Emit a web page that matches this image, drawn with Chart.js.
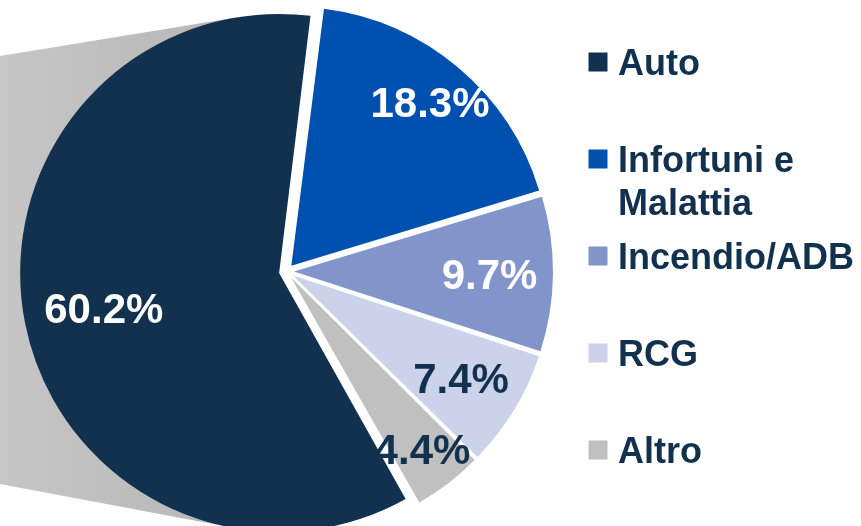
<!DOCTYPE html>
<html>
<head>
<meta charset="utf-8">
<script src="https://cdn.jsdelivr.net/npm/chart.js@4/dist/chart.umd.min.js"></script>
<style>
  html, body { margin: 0; padding: 0; background: #ffffff; }
  #wrap { width: 861px; height: 526px; position: relative; overflow: hidden; }
  canvas { display: block; }
</style>
</head>
<body>
<div id="wrap"><canvas id="c" width="861" height="526"></canvas></div>
<script>
// ---- data ----
const categories = ["Auto", "Infortuni e Malattia", "Incendio/ADB", "RCG", "Altro"];
const shares = [60.2, 18.3, 9.7, 7.4, 4.4];
const valueLabels = ["60.2%", "18.3%", "9.7%", "7.4%", "4.4%"];

// ---- style ----
const sliceColors = ["#11314f", "#0050b0", "#8195cb", "#cbd2ea", "#c0c0c0"];
const labelColors = ["#ffffff", "#ffffff", "#ffffff", "#11314f", "#11314f"];
const labelRadius = [0.69, 0.83, 0.755, 0.76, 0.835];
const TEXT_COLOR = "#11314f";
const FONT = '"Liberation Sans", Arial, Helvetica, sans-serif';
const PIE_RADIUS = 259;
const EXPLODE = 30;            // Chart.js offset (translation = offset / 4)
const LABEL_SIZE = 42;
const LEGEND_SIZE = 36;

// keeps every exploded slice at the same drawn radius
const radiusFix = {
  id: 'radiusFix',
  afterDatasetUpdate(chart, args) {
    args.meta.data.forEach(el => {
      const o = (el.options && el.options.offset != null) ? el.options.offset : EXPLODE;
      const t = o / 4;
      const fix = 1 - Math.sin(Math.min(Math.PI, el.circumference || 0));
      el.outerRadius = PIE_RADIUS - t * fix;
    });
  }
};

function sliceCenter(el) {
  const mid = (el.startAngle + el.endAngle) / 2;
  const o = (el.options && el.options.offset != null) ? el.options.offset : EXPLODE;
  const t = o / 4;
  return { x: el.x + Math.cos(mid) * t, y: el.y + Math.sin(mid) * t, mid, t };
}

// grey "projection" band behind the first slice
const shadowBand = {
  id: 'shadowBand',
  beforeDatasetsDraw(chart) {
    const el = chart.getDatasetMeta(0).data[0];
    if (!el) return;
    const c = sliceCenter(el);
    const r = PIE_RADIUS;
    const H = chart.height;
    const P1 = { x: 0, y: H * 0.1065 };
    const P2 = { x: 0, y: H * 0.920 };
    const tangent = (P, sign) => {
      const dx = P.x - c.x, dy = P.y - c.y;
      const d = Math.hypot(dx, dy);
      const a = Math.atan2(dy, dx);
      const b = Math.acos(r / d);
      const ang = a + sign * b;
      return { x: c.x + r * Math.cos(ang), y: c.y + r * Math.sin(ang) };
    };
    const T1 = tangent(P1, 1);
    const T2 = tangent(P2, -1);
    const ctx = chart.ctx;
    ctx.save();
    const g = ctx.createLinearGradient(0, 0, Math.max(T1.x, T2.x), 0);
    g.addColorStop(0, '#c6c6c6');
    g.addColorStop(1, '#b6b6b6');
    ctx.fillStyle = g;
    ctx.beginPath();
    ctx.moveTo(P1.x, P1.y);
    ctx.lineTo(T1.x, T1.y);
    ctx.lineTo(c.x, c.y);
    ctx.lineTo(T2.x, T2.y);
    ctx.lineTo(P2.x, P2.y);
    ctx.closePath();
    ctx.fill();
    ctx.restore();
  }
};

// value labels inside slices
const sliceLabels = {
  id: 'sliceLabels',
  afterDatasetsDraw(chart) {
    const ctx = chart.ctx;
    const meta = chart.getDatasetMeta(0);
    ctx.save();
    ctx.font = 'bold ' + LABEL_SIZE + 'px ' + FONT;
    ctx.textAlign = 'center';
    ctx.textBaseline = 'alphabetic';
    meta.data.forEach((el, i) => {
      const c = sliceCenter(el);
      const rr = labelRadius[i] * PIE_RADIUS;
      const x = c.x + Math.cos(c.mid) * rr;
      const y = c.y + Math.sin(c.mid) * rr;
      ctx.fillStyle = labelColors[i];
      ctx.fillText(valueLabels[i], x, y + LABEL_SIZE * 0.716 / 2);
    });
    ctx.restore();
  }
};

// legend on the right
const sideLegend = {
  id: 'sideLegend',
  afterDraw(chart) {
    const ctx = chart.ctx;
    const boxX = 588.5, textX = 618, box = 19;
    const firstBase = 75, step = 97, lineH = 43;
    const maxW = chart.width - textX - 2;
    ctx.save();
    ctx.font = 'bold ' + LEGEND_SIZE + 'px ' + FONT;
    ctx.textAlign = 'left';
    ctx.textBaseline = 'alphabetic';
    categories.forEach((name, i) => {
      const base = firstBase + step * i;
      ctx.fillStyle = sliceColors[i];
      ctx.fillRect(boxX, base - 22.5, box, box);
      const words = name.split(' ');
      const lines = [];
      let cur = '';
      words.forEach(w => {
        const test = cur ? cur + ' ' + w : w;
        if (cur && ctx.measureText(test).width > maxW) { lines.push(cur); cur = w; }
        else cur = test;
      });
      if (cur) lines.push(cur);
      ctx.fillStyle = TEXT_COLOR;
      lines.forEach((ln, k) => ctx.fillText(ln, textX, base + k * lineH));
    });
    ctx.restore();
  }
};

new Chart(document.getElementById('c'), {
  type: 'pie',
  data: {
    labels: categories,
    datasets: [{
      data: shares,
      backgroundColor: sliceColors,
      borderWidth: 0,
      offset: EXPLODE,
      hoverOffset: EXPLODE,
      radius: PIE_RADIUS
    }]
  },
  options: {
    responsive: false,
    devicePixelRatio: 1,
    animation: false,
    events: [],
    rotation: 150.5,
    layout: { padding: { left: 0, right: 288, top: 17, bottom: 0 } },
    plugins: {
      legend: { display: false },
      tooltip: { enabled: false },
      title: { display: false }
    }
  },
  plugins: [radiusFix, shadowBand, sliceLabels, sideLegend]
});
</script>
</body>
</html>
